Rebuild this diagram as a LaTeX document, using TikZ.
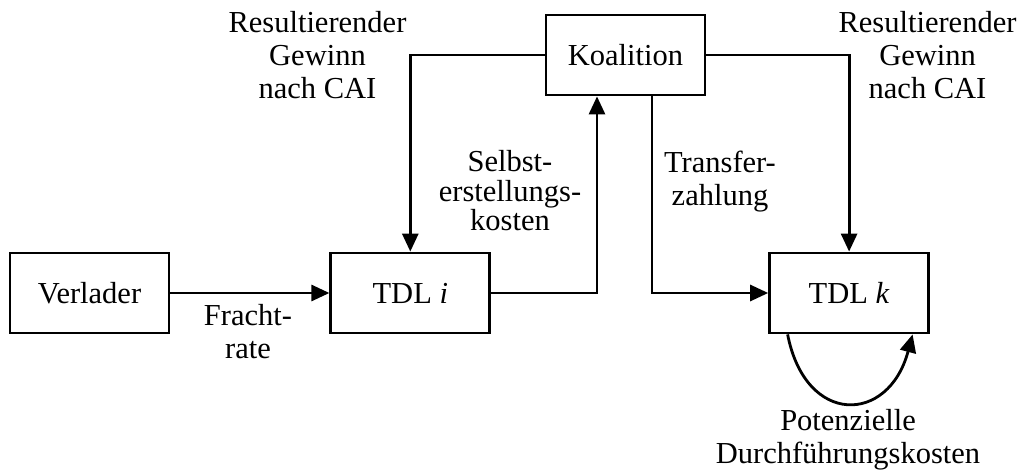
\documentclass[tikz,border=0pt]{standalone}
\usepackage{fontspec}
\setmainfont{Liberation Serif}
\usetikzlibrary{positioning, arrows.meta}

\begin{document}
\begin{tikzpicture}[x=1pt, y=1pt, node distance=159pt,
	box/.style={draw, line width=2.8pt, minimum width=159pt, minimum height=80pt, inner sep=0pt},
	lbl/.style={align=center, inner sep=0pt},
	flow/.style={line width=2.8pt, -{Triangle[length=18pt, width=16pt]}},
	font=\fontsize{30.5}{33}\selectfont]

		\useasboundingbox (0,0) rectangle (1018,472);

		% nodes - boxes %
		\node[box] (verlader) at (89.5,179) {Verlader};
		\node[box, right=of verlader] (tdli) {TDL \textit{i}};
		\node[box] (koal) at (625.5,417) {Koalition};
		\node[box, right=277pt of tdli] (tdlk) {TDL \textit{k}};

		% nodes - labels %
		\node[lbl, left=138pt of koal] (gewinni) {Resultierender\\Gewinn\\nach CAI};
		\node[lbl, right=132pt of koal] (gewinnk) {Resultierender\\Gewinn\\nach CAI};
		\node[lbl, font=\fontsize{30.5}{29.5}\selectfont] (selbst) at (510,281) {Selbst-\\erstellungs-\\kosten};
		\node[lbl] (transfer) at (720,290) {Transfer-\\zahlung};
		\node[lbl] (fracht) at (248,140) {Fracht-\\rate};
		\node[lbl] (potkost) at (848,32) {Potenzielle\\Durchführungskosten};

		% edges %
		\draw[flow] (verlader) -- (tdli);
		\draw[flow] (koal.west) -| (tdli.north);
		\draw[flow] (tdli.east) -| ([xshift=-28.5pt]koal.south);
		\draw[flow] ([xshift=26.5pt]koal.south) |- (tdlk.west);
		\draw[flow] (koal.east) -| (tdlk.north);
		\draw[flow] ([xshift=-61.5pt]tdlk.south) .. controls +(18,-92) and +(-24,-90) .. ([xshift=63.5pt]tdlk.south);

\end{tikzpicture}
\end{document}
